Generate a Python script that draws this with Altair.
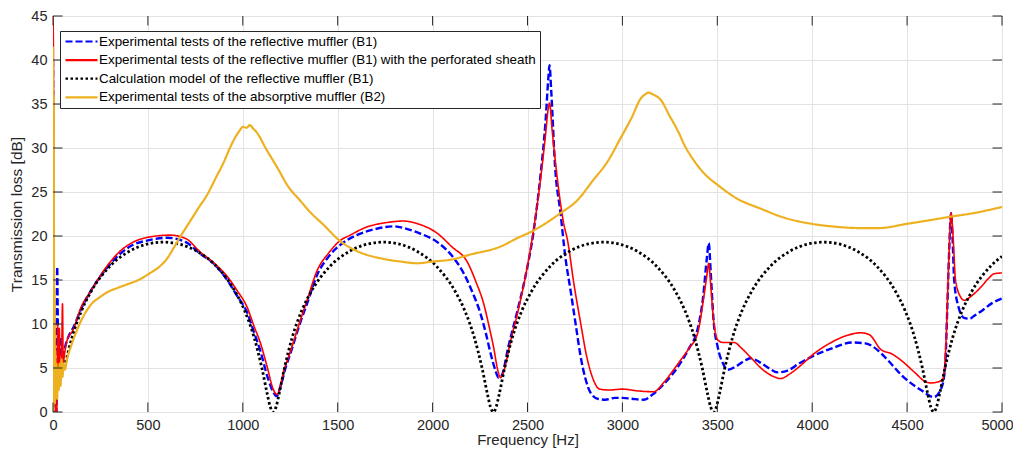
import altair as alt
import pandas as pd

# ---------------- data ----------------
series_names = [
    "Experimental tests of the reflective muffler (B1)",
    "Experimental tests of the reflective muffler (B1) with the perforated sheath",
    "Calculation model of the reflective muffler (B1)",
    "Experimental tests of the absorptive muffler (B2)",
]
series_colors = ["#0000FF", "#FF0000", "#000000", "#EDB120"]
series_dashes = [[7, 3], [1, 0], [2.5, 2.5], [1, 0]]
series_widths = [2.4, 1.6, 2.8, 2.2]

b1_f = [0, 4, 8, 12, 18, 22, 26, 30, 36, 42, 48, 55, 65, 80, 105, 150, 200, 285, 350, 422,
        500, 600, 700, 775, 850, 918, 970, 1023, 1060, 1092, 1130, 1160, 1178, 1200, 1225, 1250,
        1300, 1340, 1392, 1450, 1514, 1600, 1700, 1793, 1850, 1920, 2025, 2100, 2163, 2210, 2252,
        2280, 2305, 2330, 2347, 2365, 2400, 2447, 2490, 2532, 2569, 2595, 2610, 2616, 2625, 2645,
        2674, 2700, 2727, 2755, 2780, 2805, 2832, 2870, 2910, 2960, 3000, 3050, 3112, 3160, 3210,
        3260, 3307, 3350, 3397, 3425, 3445, 3455, 3465, 3480, 3502, 3530, 3555, 3600, 3650, 3676,
        3720, 3770, 3818, 3870, 3930, 4008, 4100, 4210, 4280, 4362, 4398, 4480, 4573, 4641, 4680,
        4700, 4712, 4722, 4731, 4740, 4748, 4770, 4800, 4830, 4852, 4900, 4950, 5000]
b1_tl = [40, 16, 5, 0, 0, 16.5, 9, 4, 4.5, 8.5, 5.5, 6.5, 7.5, 8.5, 9.5, 11.8, 13.8, 16.4, 17.9, 19.0,
         19.5, 19.8, 19.3, 18.0, 16.8, 15.0, 13.2, 11.3, 9.0, 7.0, 4.0, 2.3, 1.8, 3.0, 5.0, 6.6,
         10.0, 12.4, 15.6, 17.6, 19.0, 20.1, 20.8, 21.1, 20.9, 20.4, 19.3, 17.8, 15.8, 13.6, 11.2,
         9.0, 6.7, 4.8, 3.9, 4.2, 7.5, 11.5, 15.5, 20.5, 27.0, 33.0, 38.0, 39.4, 36.5, 28.0,
         22.6, 17.5, 13.8, 9.8, 6.3, 3.8, 2.2, 1.5, 1.4, 1.6, 1.6, 1.5, 1.4, 2.0, 3.0,
         4.2, 5.6, 7.2, 9.5, 13.0, 17.5, 19.2, 16.0, 10.5, 7.4, 5.5, 4.8, 5.2, 5.9, 6.1,
         5.7, 5.0, 4.5, 4.7, 5.5, 6.4, 7.2, 7.9, 7.8, 6.7, 5.9, 4.0, 2.5, 1.7, 2.7,
         5.0, 12.0, 18.5, 22.6, 19.5, 15.0, 12.0, 10.7, 10.6, 10.9, 11.6, 12.4, 12.9]

b1p_f = [0, 2, 5, 9, 13, 20, 24, 28, 33, 38, 44, 50, 54, 60, 74, 105, 150, 195, 285, 350, 422,
         512, 617, 700, 775, 850, 918, 970, 1023, 1060, 1092, 1130, 1160, 1181, 1200, 1213, 1250,
         1300, 1340, 1392, 1450, 1514, 1566, 1650, 1750, 1846, 1920, 2025, 2100, 2184, 2230, 2268,
         2300, 2321, 2345, 2358, 2380, 2410, 2447, 2490, 2532, 2569, 2595, 2610, 2616, 2630, 2660,
         2690, 2711, 2745, 2780, 2810, 2843, 2880, 2930, 3000, 3080, 3165, 3220, 3270, 3307, 3350,
         3397, 3425, 3445, 3455, 3465, 3480, 3502, 3530, 3587, 3630, 3676, 3740, 3800, 3834, 3880,
         3940, 4008, 4100, 4170, 4256, 4300, 4362, 4420, 4467, 4540, 4600, 4626, 4660, 4690, 4705,
         4720, 4732, 4742, 4755, 4784, 4800, 4840, 4889, 4930, 4958, 5000]
b1p_tl = [45, 41.5, 20, 6, 0, 0, 10, 4.5, 9.5, 4.5, 4.5, 12.3, 5.5, 6.5, 8.1, 9.3, 12.0, 13.6, 16.6, 18.2, 19.3,
          19.9, 20.1, 19.7, 18.2, 16.9, 15.4, 13.8, 11.9, 9.7, 7.9, 5.0, 2.6, 2.0, 3.2, 4.4, 6.8,
          10.2, 12.8, 16.1, 18.0, 19.5, 20.1, 21.0, 21.5, 21.7, 21.4, 20.3, 18.8, 17.0, 14.7, 12.4,
          9.5, 7.4, 4.6, 3.9, 5.0, 8.0, 11.2, 15.5, 20.7, 26.5, 31.5, 34.6, 35.1, 32.0, 26.0,
          21.5, 19.5, 14.5, 10.1, 6.5, 3.9, 2.6, 2.5, 2.6, 2.4, 2.3, 3.4, 4.8, 5.9, 7.2,
          9.0, 12.5, 15.5, 16.9, 14.5, 10.5, 8.2, 7.9, 7.9, 7.2, 6.2, 4.8, 4.0, 3.8, 4.3,
          5.3, 6.6, 7.9, 8.6, 9.0, 8.8, 7.1, 6.6, 5.9, 4.5, 3.4, 3.3, 3.4, 3.8, 8.0,
          17.5, 22.6, 20.0, 15.0, 13.0, 12.7, 13.2, 14.2, 15.2, 15.7, 15.8]

calc_f = [60, 100, 150, 200, 300, 400, 500, 580, 660, 760, 860, 960, 1010, 1060, 1100, 1130, 1145, 1160,
          1175, 1190, 1220, 1260, 1310, 1360, 1460, 1560, 1660, 1740, 1820, 1920, 2020, 2120, 2170, 2220,
          2260, 2290, 2305, 2320,
          2335, 2350, 2380, 2420, 2470, 2520, 2620, 2720, 2820, 2900, 2980, 3080, 3180, 3280, 3330, 3380,
          3420, 3450, 3465, 3480,
          3495, 3510, 3540, 3580, 3630, 3680, 3780, 3880, 3980, 4060, 4140, 4240, 4340, 4440, 4490, 4540,
          4580, 4610, 4625, 4640,
          4655, 4670, 4700, 4740, 4790, 4840, 4940, 5000]
calc_tl = [5.05, 8.45, 11.50, 13.67, 16.57, 18.24, 19.10, 19.30, 19.10, 18.24, 16.57, 13.67, 11.50, 8.45, 5.05, 1.93, 0.57, 0.0,
           0.57, 1.93, 5.05, 8.45, 11.50, 13.67, 16.57, 18.24, 19.10, 19.30, 19.10, 18.24, 16.57, 13.67, 11.50, 8.45,
           5.05, 1.93, 0.57, 0.0,
           0.57, 1.93, 5.05, 8.45, 11.50, 13.67, 16.57, 18.24, 19.10, 19.30, 19.10, 18.24, 16.57, 13.67, 11.50, 8.45,
           5.05, 1.93, 0.57, 0.0,
           0.57, 1.93, 5.05, 8.45, 11.50, 13.67, 16.57, 18.24, 19.10, 19.30, 19.10, 18.24, 16.57, 13.67, 11.50, 8.45,
           5.05, 1.93, 0.57, 0.0,
           0.57, 1.93, 5.05, 8.45, 11.50, 13.67, 16.57, 17.68]

b2_f = [0, 2, 4, 6, 8, 10, 12, 15, 18, 22, 26, 30, 35, 40, 45, 50, 55, 62, 74, 100, 130, 158, 200,
        250, 285, 340, 390, 450, 512, 560, 600, 640, 670, 720, 770, 810, 860, 900, 932, 960, 984,
        1000, 1020, 1037, 1055, 1076, 1120, 1181, 1240, 1303, 1360, 1424, 1514, 1600, 1741, 1830,
        1920, 2000, 2094, 2200, 2358, 2450, 2530, 2621, 2674, 2760, 2848, 2920, 2990, 3050, 3096,
        3120, 3138, 3160, 3201, 3250, 3291, 3330, 3376, 3440, 3502, 3600, 3729, 3850, 3992, 4100,
        4256, 4350, 4504, 4620, 4731, 4850, 5000]
b2_tl = [41.5, 0, 36, 3, 14, 1, 7, 2, 5.5, 1.5, 5, 2.5, 5.5, 3, 6, 4, 5.5, 4.8, 6.0, 7.8, 9.5, 10.8, 12.2,
         13.1, 13.6, 14.1, 14.5, 15.0, 15.8, 16.5, 17.4, 18.8, 19.9, 21.6, 23.3, 24.6, 26.7, 28.4, 30.0, 31.2, 32.0,
         32.4, 32.3, 32.6, 32.2, 31.7, 30.0, 27.8, 25.6, 24.0, 22.6, 21.3, 19.4, 18.3, 17.4, 17.1,
         16.9, 17.1, 17.3, 17.9, 18.8, 19.8, 20.6, 21.8, 22.6, 24.0, 26.4, 28.4, 31.1, 33.5, 35.6,
         36.1, 36.3, 36.1, 35.5, 33.6, 32.0, 30.2, 28.6, 26.9, 25.8, 24.3, 23.1, 22.1, 21.4, 21.1,
         20.9, 20.9, 21.4, 21.8, 22.2, 22.6, 23.3]

x_ticks = [0, 500, 1000, 1500, 2000, 2500, 3000, 3500, 4000, 4500, 5000]
y_ticks = [0, 5, 10, 15, 20, 25, 30, 35, 40, 45]

# ---------------- tables ----------------
rows = []
for name, fs, vs in zip(series_names, [b1_f, b1p_f, calc_f, b2_f], [b1_tl, b1p_tl, calc_tl, b2_tl]):
    for f, v in zip(fs, vs):
        rows.append({"series": name, "f": f, "tl": v})
df = pd.DataFrame(rows)
xt = pd.DataFrame({"t": x_ticks})
yt = pd.DataFrame({"t": y_ticks})

FONT = "Liberation Sans"
TXT = "#262626"
W, H = 949, 396
TICK = 9.5

xs = alt.Scale(domain=[0, 5000], nice=False, zero=False)
ys = alt.Scale(domain=[0, 45], nice=False, zero=False)

x_enc = alt.X("f:Q", scale=xs, axis=alt.Axis(
    values=x_ticks, title="Frequency [Hz]", format="d",
    labelOffset={"condition": {"test": "datum.value === 5000", "value": -5}, "value": 0}))
y_enc = alt.Y("tl:Q", scale=ys, axis=alt.Axis(values=y_ticks, title="Transmission loss [dB]", format="d"))


def series_layer(i):
    name = series_names[i]
    return (
        alt.Chart(df)
        .transform_filter(alt.datum.series == name)
        .mark_line(clip=True, interpolate="monotone", strokeCap="butt", strokeJoin="round",
                   strokeWidth=series_widths[i])
        .encode(
            x=x_enc,
            y=y_enc,
            color=alt.Color("series:N", title=None,
                            scale=alt.Scale(domain=series_names, range=series_colors)),
            strokeDash=alt.StrokeDash("series:N", title=None,
                                      scale=alt.Scale(domain=series_names, range=series_dashes)),
        )
    )


tick_style = dict(color=TXT, strokeWidth=1)
bottom_ticks = alt.Chart(xt).mark_rule(**tick_style).encode(
    x=alt.X("t:Q", scale=xs), y=alt.value(H), y2=alt.value(H - TICK))
top_ticks = alt.Chart(xt).mark_rule(**tick_style).encode(
    x=alt.X("t:Q", scale=xs), y=alt.value(0), y2=alt.value(TICK))
left_ticks = alt.Chart(yt).mark_rule(**tick_style).encode(
    y=alt.Y("t:Q", scale=ys), x=alt.value(0), x2=alt.value(TICK))
right_ticks = alt.Chart(yt).mark_rule(**tick_style).encode(
    y=alt.Y("t:Q", scale=ys), x=alt.value(W), x2=alt.value(W - TICK))

chart = (
    alt.layer(
        series_layer(0),
        series_layer(1),
        series_layer(2),
        series_layer(3),
        bottom_ticks, top_ticks, left_ticks, right_ticks,
    )
    .properties(
        width=W, height=H,
        autosize=alt.AutoSizeParams(type="none"),
        padding={"left": 45, "top": 8, "right": 11, "bottom": 39},
        background="white",
    )
    .configure_view(stroke=TXT, strokeWidth=1)
    .configure_axis(
        ticks=False, domain=False, grid=True, gridColor="#e3e3e3", gridWidth=1,
        labelFont=FONT, labelFontSize=14.5, labelColor=TXT, labelPadding=6,
        titleFont=FONT, titleFontSize=15.5, titleColor=TXT, titleFontWeight="normal",
    )
    .configure_axisX(titlePadding=1, titleFontSize=15, labelFlush=False)
    .configure_axisY(titlePadding=6)
    .configure_legend(
        orient="none", legendX=7, legendY=15, padding=4,
        fillColor="white", strokeColor=TXT, strokeWidth=1, cornerRadius=0,
        symbolType="stroke", symbolSize=1024, symbolStrokeWidth=2.2, clipHeight=13,
        labelOffset=0, labelFont=FONT, labelFontSize=13.4, labelColor="#000000", labelLimit=800,
        rowPadding=4.6, symbolLimit=10,
    )
)

chart.save("out.html", embed_options={"renderer": "svg", "actions": False})
